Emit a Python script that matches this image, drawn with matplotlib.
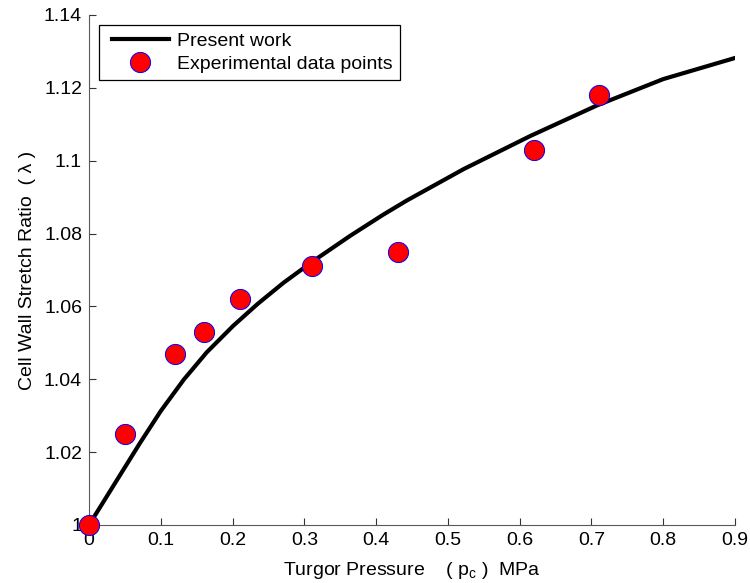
import matplotlib
matplotlib.use('Agg')
import matplotlib.pyplot as plt
from matplotlib.legend_handler import HandlerLine2D

plt.rcParams['font.family'] = ['Liberation Sans', 'DejaVu Sans']
plt.rcParams['mathtext.fontset'] = 'custom'
plt.rcParams['mathtext.rm'] = 'Liberation Sans'
plt.rcParams['mathtext.it'] = 'Liberation Sans'

# model curve (present work)
model_p = [0.00, 0.041, 0.071, 0.100, 0.132, 0.164, 0.201, 0.235, 0.271,
           0.312, 0.364, 0.410, 0.443, 0.522, 0.615, 0.708, 0.800, 0.900]
model_lam = [1.0000, 1.0130, 1.0225, 1.0313, 1.0399, 1.0474, 1.0547, 1.0607,
             1.0665, 1.0724, 1.0794, 1.0852, 1.0891, 1.0977, 1.1068, 1.1152,
             1.1224, 1.1282]

# experimental measurements
exp_p = [0.0, 0.05, 0.12, 0.16, 0.21, 0.31, 0.43, 0.62, 0.71]
exp_lam = [1.000, 1.025, 1.047, 1.053, 1.062, 1.071, 1.075, 1.103, 1.118]

xticks = [0, 0.1, 0.2, 0.3, 0.4, 0.5, 0.6, 0.7, 0.8, 0.9]
yticks = [1, 1.02, 1.04, 1.06, 1.08, 1.1, 1.12, 1.14]

fs = 14

fig = plt.figure(figsize=(7.5, 5.83), dpi=100)
ax = fig.add_axes([0.1187, 0.0995, 0.98 - 0.1187, 0.9743 - 0.0995])

line, = ax.plot(model_p, model_lam, color='k', lw=3.0, label='Present work',
                solid_joinstyle='round', zorder=3)
pts, = ax.plot(exp_p, exp_lam, linestyle='none', marker='o', markersize=14.5,
               markerfacecolor='red', markeredgecolor='blue', markeredgewidth=0.7,
               label='Experimental data points', clip_on=False, zorder=5)

ax.set_xlim(0, 0.9)
ax.set_ylim(1, 1.14)
ax.set_xticks(xticks)
ax.set_xticklabels(['0', '0.1', '0.2', '0.3', '0.4', '0.5', '0.6', '0.7', '0.8', '0.9'])
ax.set_yticks(yticks)
ax.set_yticklabels(['1', '1.02', '1.04', '1.06', '1.08', '1.1', '1.12', '1.14'])

for side in ['top', 'right']:
    ax.spines[side].set_visible(False)
for side in ['left', 'bottom']:
    ax.spines[side].set_color('0.35')
    ax.spines[side].set_linewidth(0.8)
ax.tick_params(direction='in', length=5, width=0.8, color='0.2',
               labelsize=fs, pad=5)

ax.set_xlabel(r'Turgor Pressure    ( $\mathregular{p_c}$ )  MPa', fontsize=fs, labelpad=8)
ax.set_ylabel('Cell Wall Stretch Ratio  ( λ )', fontsize=fs, labelpad=6)

# small left inset for the legend handles
hmap = {line: HandlerLine2D(xpad=0.3), pts: HandlerLine2D(xpad=0.3)}
leg = ax.legend(handler_map=hmap, loc='upper left', bbox_to_anchor=(0.0155, 0.980),
                fontsize=fs, fancybox=False, edgecolor='k', framealpha=1,
                handlelength=3.25, borderpad=0.35, labelspacing=0.3,
                handletextpad=0.42, borderaxespad=0, numpoints=1)
leg.get_frame().set_linewidth(0.9)

plt.savefig('out.png', dpi=100)
